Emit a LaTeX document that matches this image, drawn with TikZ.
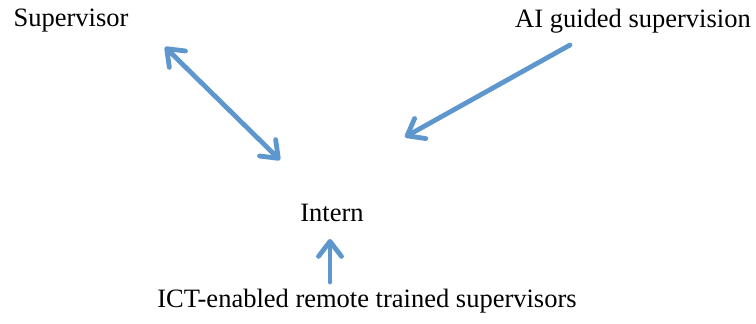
\documentclass[tikz,border=0pt]{standalone}
\usepackage{fontspec}
\setmainfont{Liberation Serif}
\usetikzlibrary{positioning}
\usetikzlibrary{arrows.meta}
\definecolor{arrowblue}{RGB}{94,150,206}
\tikzset{
	label/.style={inner sep=0pt, font=\fontsize{26.5}{31}\selectfont},
	link/.style={draw=arrowblue, line width=4.8pt, line cap=round},
	barb/.tip={Straight Barb[length=15pt, width=23pt, line cap=round, line join=round]}
}

\begin{document}
\begin{tikzpicture}[x=1pt, y=-1pt]
		\useasboundingbox (0,0) rectangle (756,324);
		\node[label] (Intern) at (332,213) {Intern};
		\node[label] (Sup) at (71,21) {Supervisor};
		\node[label] (AI) at (633,21) {AI guided supervision};
		\node[label] (ICT) at (367,301) {ICT-enabled remote trained supervisors};
		\coordinate (supEnd) at (165,47);
		\coordinate (internTop) at (280,160);
		\coordinate (aiEnd) at (570,45);
		\coordinate (internRight) at (405,137);
		\coordinate (ictEnd) at (330,282);
		\coordinate (internBelow) at (330,239);
		\draw[link, barb-barb] (supEnd) -- (internTop);
		\draw[link, -barb] (aiEnd) -- (internRight);
		\draw[link, -barb] (ictEnd) -- (internBelow);
\end{tikzpicture}
\end{document}
